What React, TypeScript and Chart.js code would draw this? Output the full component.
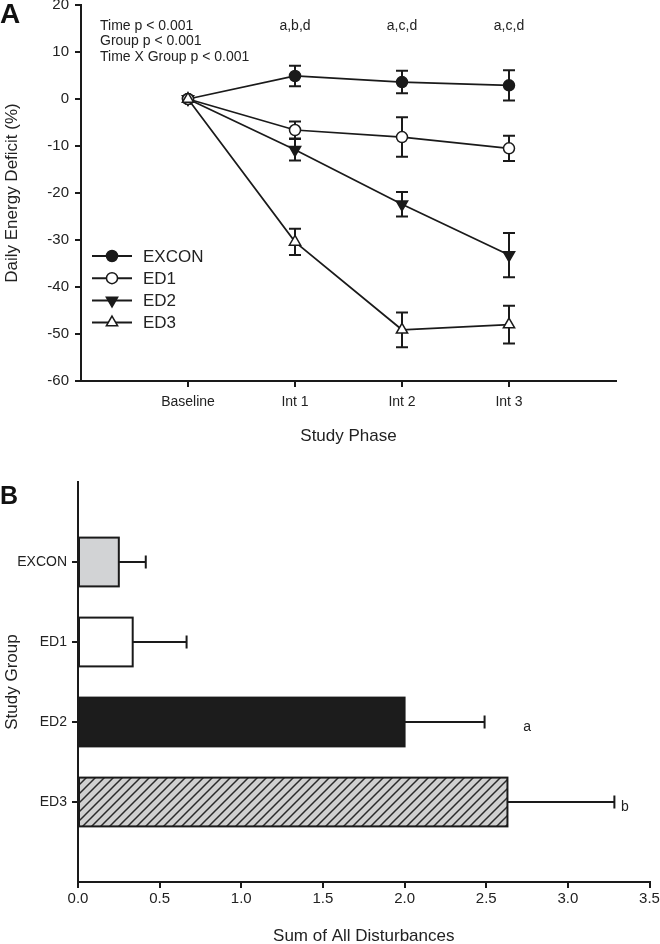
import React, { useEffect, useRef } from 'react';
import { Chart, registerables } from 'chart.js';

Chart.register(...registerables);

// ---------- Data: panel A ----------
const PHASES = ['Baseline', 'Int 1', 'Int 2', 'Int 3'];
const EXCON_MEAN = [0, 4.9, 3.6, 2.9];
const EXCON_ERR = [0, 2.2, 2.4, 3.2];
const ED1_MEAN = [0, -6.6, -8.1, -10.5];
const ED1_ERR = [0, 1.8, 4.2, 2.7];
const ED2_MEAN = [0, -10.8, -22.4, -33.2];
const ED2_ERR = [0, 2.3, 2.6, 4.7];
const ED3_MEAN = [0, -30.4, -49.1, -48.0];
const ED3_ERR = [0, 2.8, 3.7, 4.0];
const PHASE_LETTERS = ['', 'a,b,d', 'a,c,d', 'a,c,d'];
const STATS_TEXT = ['Time p < 0.001', 'Group p < 0.001', 'Time X Group p < 0.001'];
const Y_MIN_A = -60;
const Y_MAX_A = 20;
const Y_STEP_A = 10;

// ---------- Data: panel B ----------
const GROUPS = ['EXCON', 'ED1', 'ED2', 'ED3'];
const DISTURB_MEAN = [0.25, 0.335, 2.0, 2.63];
const DISTURB_ERR = [0.165, 0.33, 0.49, 0.655];
const DISTURB_LETTERS = ['', '', 'a', 'b'];
const DISTURB_LETTER_X = [0, 0, 2.75, 3.35];
const X_MIN_B = 0;
const X_MAX_B = 3.5;
const X_STEP_B = 0.5;

const FONT = '"Liberation Sans", Arial, Helvetica, sans-serif';
const INK = '#1a1a1a';
const TEXT = '#222222';

function drawMarker(ctx: any, style: string, x: number, y: number, r: number, fill: string, rot: number) {
  ctx.save();
  ctx.translate(x, y);
  ctx.rotate((rot * Math.PI) / 180);
  ctx.beginPath();
  if (style === 'circle') {
    ctx.arc(0, 0, r, 0, Math.PI * 2);
  } else {
    for (let k = 0; k < 3; k++) {
      const a = (k * 2 * Math.PI) / 3;
      const px = Math.sin(a) * r;
      const py = -Math.cos(a) * r;
      if (k === 0) ctx.moveTo(px, py);
      else ctx.lineTo(px, py);
    }
    ctx.closePath();
  }
  ctx.fillStyle = fill;
  ctx.fill();
  ctx.lineWidth = 1.5;
  ctx.strokeStyle = INK;
  ctx.stroke();
  ctx.restore();
}

function makeHatch(): CanvasPattern | string {
  const c = document.createElement('canvas');
  const s = 9;
  c.width = s;
  c.height = s;
  const g = c.getContext('2d');
  if (!g) return '#cfcfcf';
  g.fillStyle = '#d0d0d0';
  g.fillRect(0, 0, s, s);
  g.strokeStyle = '#2a2a2a';
  g.lineWidth = 1.5;
  g.beginPath();
  g.moveTo(0, s);
  g.lineTo(s, 0);
  g.moveTo(-s, s);
  g.lineTo(s, -s);
  g.moveTo(0, 2 * s);
  g.lineTo(2 * s, 0);
  g.stroke();
  const p = g.createPattern(c, 'repeat');
  return p || '#cfcfcf';
}

export default function App() {
  const topRef = useRef<HTMLCanvasElement>(null);
  const botRef = useRef<HTMLCanvasElement>(null);

  useEffect(() => {
    const series = [
      { label: 'EXCON', mean: EXCON_MEAN, err: EXCON_ERR, style: 'circle', fill: INK, rot: 0, r: 5.5, order: 4 },
      { label: 'ED1', mean: ED1_MEAN, err: ED1_ERR, style: 'circle', fill: '#ffffff', rot: 0, r: 5.5, order: 2 },
      { label: 'ED2', mean: ED2_MEAN, err: ED2_ERR, style: 'triangle', fill: INK, rot: 180, r: 6.5, order: 3 },
      { label: 'ED3', mean: ED3_MEAN, err: ED3_ERR, style: 'triangle', fill: '#ffffff', rot: 0, r: 6.5, order: 1 },
    ];

    const errorBarsA = {
      id: 'errorBarsA',
      beforeDatasetsDraw(chart: any) {
        const { ctx, scales } = chart;
        const xs = scales.x;
        const ys = scales.y;
        ctx.save();
        ctx.strokeStyle = INK;
        ctx.lineWidth = 2;
        chart.data.datasets.forEach((ds: any) => {
          ds.data.forEach((p: any, i: number) => {
            const e = ds.errors[i];
            if (!e) return;
            const px = xs.getPixelForValue(p.x);
            const y1 = ys.getPixelForValue(p.y + e);
            const y2 = ys.getPixelForValue(p.y - e);
            ctx.beginPath();
            ctx.moveTo(px, y1);
            ctx.lineTo(px, y2);
            ctx.moveTo(px - 6, y1);
            ctx.lineTo(px + 6, y1);
            ctx.moveTo(px - 6, y2);
            ctx.lineTo(px + 6, y2);
            ctx.stroke();
          });
        });
        ctx.restore();
      },
    };

    const annotA = {
      id: 'annotA',
      afterDraw(chart: any) {
        const { ctx, chartArea, scales } = chart;
        ctx.save();
        ctx.fillStyle = '#111';
        ctx.font = `bold 28px ${FONT}`;
        ctx.textAlign = 'left';
        ctx.textBaseline = 'middle';
        ctx.fillText('A', 0, 25);
        ctx.fillStyle = TEXT;
        ctx.font = `14px ${FONT}`;
        STATS_TEXT.forEach((t, i) => {
          ctx.fillText(t, chartArea.left + 19, chartArea.top + 21 + i * 15.5);
        });
        ctx.textAlign = 'center';
        PHASE_LETTERS.forEach((t, i) => {
          if (!t) return;
          ctx.fillText(t, scales.x.getPixelForValue(i + 1), chartArea.top + 21);
        });
        chart.data.datasets.forEach((ds: any, i: number) => {
          const y = chartArea.top + 251 + i * 22.2;
          const x0 = chartArea.left + 11;
          ctx.strokeStyle = INK;
          ctx.lineWidth = 2;
          ctx.beginPath();
          ctx.moveTo(x0, y);
          ctx.lineTo(x0 + 40, y);
          ctx.stroke();
          drawMarker(ctx, ds.mk.style, x0 + 20, y, ds.mk.r, ds.mk.fill, ds.mk.rot);
          ctx.fillStyle = TEXT;
          ctx.font = `17px ${FONT}`;
          ctx.textAlign = 'left';
          ctx.textBaseline = 'middle';
          ctx.fillText(ds.label, x0 + 51, y + 1);
        });
        ctx.restore();
      },
    };

    const axisCommon = {
      grid: { drawOnChartArea: false, drawTicks: true, tickLength: 6, color: INK, lineWidth: 2, offset: false },
      border: { display: true, color: INK, width: 2 },
    };

    const cfgA: any = {
      type: 'line',
      data: {
        datasets: series.map((s) => ({
          label: s.label,
          data: s.mean.map((v, i) => ({ x: i + 1, y: v })),
          errors: s.err,
          mk: { style: s.style, r: s.r, fill: s.fill, rot: s.rot },
          order: s.order,
          borderColor: INK,
          borderWidth: 1.7,
          backgroundColor: s.fill,
          pointStyle: s.style,
          pointRotation: s.rot,
          pointRadius: s.r,
          pointBackgroundColor: s.fill,
          pointBorderColor: INK,
          pointBorderWidth: 1.5,
          fill: false,
          tension: 0,
        })),
      },
      options: {
        animation: false,
        responsive: true,
        maintainAspectRatio: false,
        layout: { padding: { left: 0, right: 44, top: 15, bottom: 0 } },
        plugins: { legend: { display: false }, tooltip: { enabled: false } },
        scales: {
          x: {
            type: 'linear',
            min: 0,
            max: PHASES.length + 1,
            afterBuildTicks: (s: any) => {
              s.ticks = PHASES.map((_, i) => ({ value: i + 1 }));
            },
            afterFit: (s: any) => {
              s.height = 69;
              s.paddingLeft = 0;
              s.paddingRight = 0;
            },
            ticks: {
              autoSkip: false,
              maxRotation: 0,
              padding: 7,
              color: TEXT,
              font: { family: FONT, size: 14 },
              callback: (v: any) => PHASES[Math.round(v) - 1] ?? '',
            },
            title: {
              display: true,
              text: 'Study Phase',
              color: TEXT,
              font: { family: FONT, size: 17 },
              padding: { top: 0, bottom: 3.8 },
            },
            ...axisCommon,
          },
          y: {
            type: 'linear',
            min: Y_MIN_A,
            max: Y_MAX_A,
            afterFit: (s: any) => {
              s.width = 81;
              s.paddingTop = 0;
              s.paddingBottom = 0;
            },
            ticks: {
              stepSize: Y_STEP_A,
              padding: 6,
              color: TEXT,
              font: { family: FONT, size: 15 },
            },
            title: {
              display: true,
              text: 'Daily Energy Deficit (%)',
              color: TEXT,
              font: { family: FONT, size: 17 },
              padding: { top: 2, bottom: 0 },
            },
            ...axisCommon,
          },
        },
      },
      plugins: [errorBarsA, annotA],
    };

    const hatch = makeHatch();
    const barFills = ['#d2d3d5', '#ffffff', '#1c1c1c', hatch];

    const errorBarsB = {
      id: 'errorBarsB',
      afterDatasetsDraw(chart: any) {
        const { ctx, scales } = chart;
        const xs = scales.x;
        const ys = scales.y;
        ctx.save();
        // bar outlines
        const meta = chart.getDatasetMeta(0);
        ctx.strokeStyle = INK;
        ctx.lineWidth = 2;
        meta.data.forEach((el: any, idx: number) => {
          if (chart.data.datasets[0].data[idx] == null) return;
          const { x, y, base, height } = el.getProps(['x', 'y', 'base', 'height'], true);
          const left = Math.min(base, x);
          ctx.strokeRect(left, y - height / 2, Math.abs(x - base), height);
        });
        // error bars
        GROUPS.forEach((_, i) => {
          const py = ys.getPixelForValue(i + 1);
          const x0 = xs.getPixelForValue(DISTURB_MEAN[i]);
          const x1 = xs.getPixelForValue(DISTURB_MEAN[i] + DISTURB_ERR[i]);
          ctx.beginPath();
          ctx.moveTo(x0, py);
          ctx.lineTo(x1, py);
          ctx.moveTo(x1, py - 6.5);
          ctx.lineTo(x1, py + 6.5);
          ctx.stroke();
        });
        ctx.fillStyle = TEXT;
        ctx.font = `14px ${FONT}`;
        ctx.textAlign = 'center';
        ctx.textBaseline = 'middle';
        DISTURB_LETTERS.forEach((t, i) => {
          if (!t) return;
          ctx.fillText(t, xs.getPixelForValue(DISTURB_LETTER_X[i]), ys.getPixelForValue(i + 1) + 5);
        });
        ctx.fillStyle = '#111';
        ctx.font = `bold 25px ${FONT}`;
        ctx.textAlign = 'left';
        ctx.fillText('B', 0, 47);
        ctx.restore();
      },
    };

    const cfgB: any = {
      type: 'bar',
      data: {
        labels: ['', ...GROUPS, ''],
        datasets: [
          {
            label: 'Sum of All Disturbances',
            data: [null, ...DISTURB_MEAN, null],
            backgroundColor: [null, ...barFills, null],
            borderWidth: 0,
            barPercentage: 0.61,
            categoryPercentage: 1,
          },
        ],
      },
      options: {
        animation: false,
        responsive: true,
        maintainAspectRatio: false,
        indexAxis: 'y',
        layout: { padding: { left: 0, right: 10.5, top: 32, bottom: 0 } },
        plugins: { legend: { display: false }, tooltip: { enabled: false } },
        scales: {
          x: {
            type: 'linear',
            min: X_MIN_B,
            max: X_MAX_B,
            afterFit: (s: any) => {
              s.height = 68;
              s.paddingLeft = 0;
              s.paddingRight = 0;
            },
            ticks: {
              stepSize: X_STEP_B,
              padding: 2,
              color: TEXT,
              font: { family: FONT, size: 15 },
              callback: (v: any) => Number(v).toFixed(1),
            },
            title: {
              display: true,
              text: 'Sum of All Disturbances',
              color: TEXT,
              font: { family: FONT, size: 17 },
              padding: { top: 0, bottom: 3 },
            },
            ...axisCommon,
          },
          y: {
            type: 'category',
            offset: false,
            afterBuildTicks: (s: any) => {
              s.ticks = GROUPS.map((_, i) => ({ value: i + 1 }));
            },
            afterFit: (s: any) => {
              s.width = 78;
              s.paddingTop = 0;
              s.paddingBottom = 0;
            },
            ticks: {
              autoSkip: false,
              padding: 5,
              color: TEXT,
              font: { family: FONT, size: 14 },
            },
            title: {
              display: true,
              text: 'Study Group',
              color: TEXT,
              font: { family: FONT, size: 17 },
              padding: { top: 2, bottom: 0 },
            },
            ...axisCommon,
          },
        },
      },
      plugins: [errorBarsB],
    };

    const c1 = new Chart(topRef.current as HTMLCanvasElement, cfgA);
    const c2 = new Chart(botRef.current as HTMLCanvasElement, cfgB);
    return () => {
      c1.destroy();
      c2.destroy();
    };
  }, []);

  return (
    <div
      style={{
        position: 'absolute',
        left: 0,
        top: 0,
        width: 660,
        height: 944,
        overflow: 'hidden',
        background: '#ffffff',
      }}
    >
      <div style={{ position: 'absolute', left: 0, top: -10, width: 660, height: 460 }}>
        <canvas ref={topRef} />
      </div>
      <div style={{ position: 'absolute', left: 0, top: 450, width: 660, height: 500 }}>
        <canvas ref={botRef} />
      </div>
    </div>
  );
}
